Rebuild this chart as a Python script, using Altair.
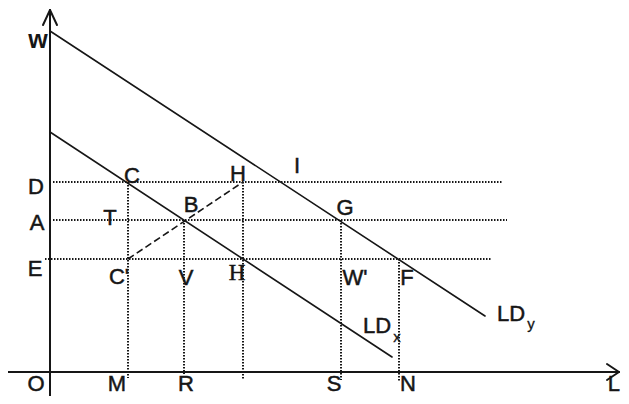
import altair as alt
import pandas as pd

# Diagram coordinates: origin O at (0, 0); L to the right, w upward
wage_D, wage_A, wage_E = 190, 152, 113
L_M, L_R, L_H, L_S, L_N = 78, 134, 193, 291, 349

# Solid segments: axes, arrow heads, demand curves
solid_x1 = [0, -42, 0, 0, 569, 569, 0, 0]
solid_y1 = [-26, 0, 362, 362, 0, 0, 341, 240]
solid_x2 = [0, 569, -7, 7, 557, 557, 435, 342]
solid_y2 = [362, 0, 347, 347, 8, -8, 56, 15]
solid_w = [2, 2, 2, 2, 2, 2, 1.6, 1.6]

# Dotted guide lines
dot_x1 = [3, 3, -5, L_M, L_R, L_H, L_S, L_N]
dot_y1 = [wage_D, wage_A, wage_E, wage_D, wage_A, wage_D, wage_A, wage_E]
dot_x2 = [453, 457, 442, L_M, L_R, L_H, L_S, L_N]
dot_y2 = [wage_D, wage_A, wage_E, -6, -2, -8, -8, -10]

# Dashed line C' -> B -> H
dash_x1, dash_y1, dash_x2, dash_y2 = [L_M], [wage_E], [L_H], [wage_D]

# Sans labels (centred)
lab_text = ["D", "A", "E", "T", "C", "H", "I", "B", "G", "C'", "V", "W'", "F",
            "LD", "LD", "O", "M", "R", "S", "N"]
lab_x = [-14, -13, -15, 60, 82, 188, 247, 141, 295, 69, 136, 305, 357,
         327, 461, -14, 67, 136, 284, 358]
lab_y = [185, 149, 103, 154, 196, 198, 206, 167, 164, 95, 94, 94, 94,
         46, 58, -12, -12, -12, -12, -12]

# Axis name L (right-aligned at the right edge)
l_text, l_x, l_y = ["L"], [570], [-12]

# Axis name w (bold, lowercase)
w_text, w_x, w_y = ["w"], [-12], [332]

# Serif label (lower H)
serif_text, serif_x, serif_y = ["H"], [187], [99]

# Subscripts
sub_text = ["x", "y"]
sub_x = [347, 481]
sub_y = [35, 48]

solid = pd.DataFrame({"x": solid_x1, "y": solid_y1, "x2": solid_x2, "y2": solid_y2, "w": solid_w})
dotted = pd.DataFrame({"x": dot_x1, "y": dot_y1, "x2": dot_x2, "y2": dot_y2})
dashed = pd.DataFrame({"x": dash_x1, "y": dash_y1, "x2": dash_x2, "y2": dash_y2})
labels = pd.DataFrame({"t": lab_text, "x": lab_x, "y": lab_y})
llab = pd.DataFrame({"t": l_text, "x": l_x, "y": l_y})
wlab = pd.DataFrame({"t": w_text, "x": w_x, "y": w_y})
serif = pd.DataFrame({"t": serif_text, "x": serif_x, "y": serif_y})
subs = pd.DataFrame({"t": sub_text, "x": sub_x, "y": sub_y})

xs = alt.Scale(domain=[-42, 571], nice=False, zero=False)
ys = alt.Scale(domain=[-24, 364], nice=False, zero=False)
X = lambda: alt.X("x:Q", scale=xs, axis=None)
Y = lambda: alt.Y("y:Q", scale=ys, axis=None)

ink = "#161616"

solid_layer = alt.Chart(solid).mark_rule(color=ink, strokeCap="round").encode(
    x=X(), y=Y(), x2="x2:Q", y2="y2:Q",
    strokeWidth=alt.StrokeWidth("w:Q", scale=None, legend=None))
dotted_layer = alt.Chart(dotted).mark_rule(color=ink, strokeWidth=2, strokeDash=[1.5, 1.5]).encode(
    x=X(), y=Y(), x2="x2:Q", y2="y2:Q")
dashed_layer = alt.Chart(dashed).mark_rule(color=ink, strokeWidth=1.6, strokeDash=[7, 3.5]).encode(
    x=X(), y=Y(), x2="x2:Q", y2="y2:Q")
label_layer = alt.Chart(labels).mark_text(
    font="Liberation Sans", fontSize=22, color=ink, stroke=ink, strokeWidth=0.5,
    align="center", baseline="middle").encode(
    x=X(), y=Y(), text="t:N")
l_layer = alt.Chart(llab).mark_text(
    font="Liberation Sans", fontSize=22, color=ink, stroke=ink, strokeWidth=0.5,
    align="right", baseline="middle").encode(
    x=X(), y=Y(), text="t:N")
w_layer = alt.Chart(wlab).mark_text(
    font="Liberation Sans", fontSize=25, fontWeight="bold", color=ink,
    align="center", baseline="middle").encode(
    x=X(), y=Y(), text="t:N")
serif_layer = alt.Chart(serif).mark_text(
    font="Liberation Serif", fontSize=23, color=ink, stroke=ink, strokeWidth=0.5,
    align="center", baseline="middle").encode(
    x=X(), y=Y(), text="t:N")
sub_layer = alt.Chart(subs).mark_text(
    font="Liberation Sans", fontSize=15, color=ink, stroke=ink, strokeWidth=0.3,
    align="center", baseline="middle").encode(
    x=X(), y=Y(), text="t:N")

chart = alt.layer(dotted_layer, dashed_layer, solid_layer, label_layer, l_layer, w_layer,
                  serif_layer, sub_layer).properties(
    width=613, height=388, autosize=alt.AutoSizeParams(type="none"), padding=0
).configure_view(stroke=None)

chart.save("out.html", embed_options={"renderer": "svg", "actions": False})
